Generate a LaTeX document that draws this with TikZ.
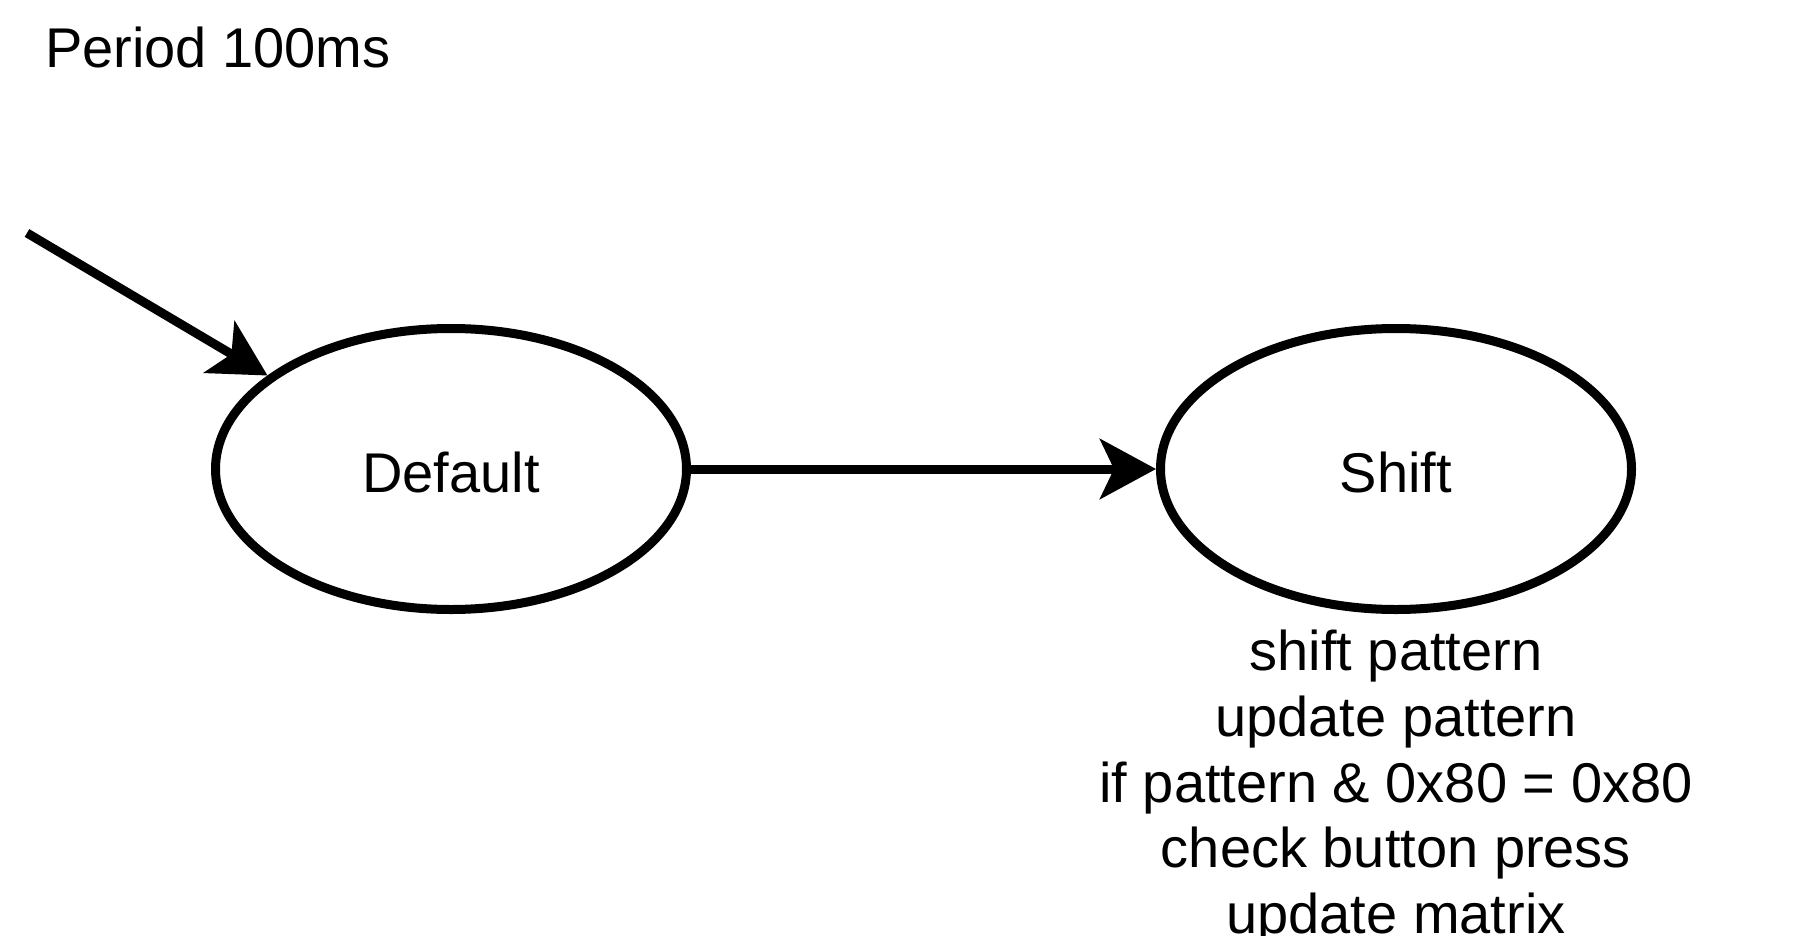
\documentclass[tikz,border=0pt]{standalone}
\usepackage{fontspec}
\setmainfont{Liberation Sans}
\usetikzlibrary{arrows.meta,
	shapes}

\begin{document}
\begin{tikzpicture}[x=1pt,y=-1pt,font={\fontsize{56}{65.7}\selectfont},
    >={Stealth[length=56pt,width=60pt,inset=14pt]}]
    \tikzstyle{state}=[ellipse,draw,line width=9pt,minimum width=471pt,minimum height=281pt,inner sep=0pt,text height=47pt]
    \tikzstyle{trans}=[line width=9pt,->]
    \useasboundingbox (0,0) rectangle (1795,936);
    \node[anchor=base west,inner sep=0pt] (period) at (45,68) {Period 100ms};
    \node[state] (default) at (451,469) {Default};
    \node[state] (shift) at (1396,469) {Shift};
    \node[anchor=north,align=center,inner sep=0pt] (actions) at (1396,630) {shift pattern\\update pattern\\if pattern \& 0x80 = 0x80\\check button press\\update matrix};
    \coordinate (init) at (27,233);
    \draw[trans] (init) -- (default.153);
    \draw[trans] (default) -- (shift);
\end{tikzpicture}
\end{document}
